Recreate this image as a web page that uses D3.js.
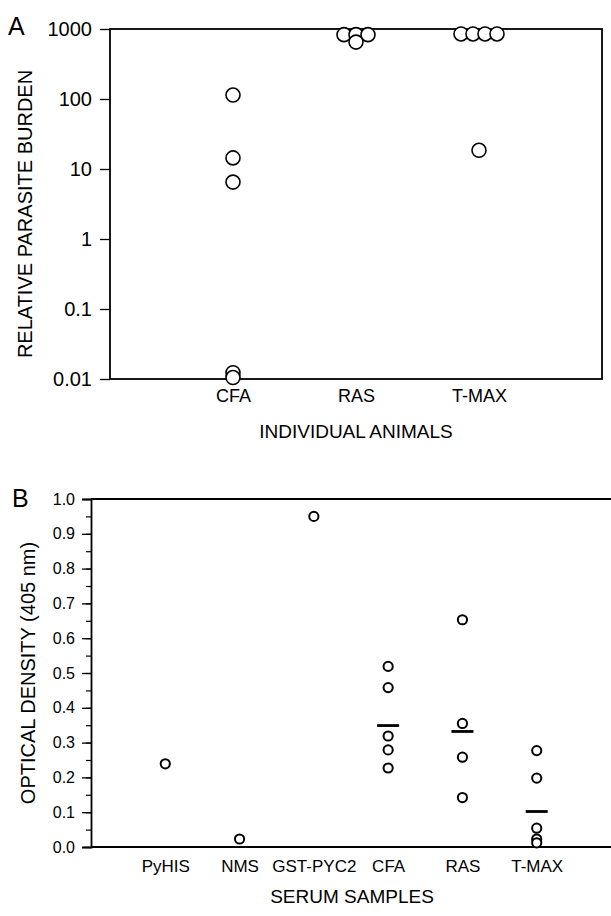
<!DOCTYPE html>
<html>
<head>
<meta charset="utf-8">
<script src="https://cdn.jsdelivr.net/npm/d3@7"></script>
<style>
  body { margin: 0; background: #fff; }
  svg { font-family: "Liberation Sans", Arial, sans-serif; }
</style>
</head>
<body>
<svg id="chart" width="611" height="916"></svg>
<script>
// Panel A data: relative parasite burden per animal
const A_CATEGORIES = ["CFA", "RAS", "T-MAX"];
const A_CFA = [114, 14.4, 6.5, 0.0123, 0.0105];
const A_RAS = [830, 830, 830, 650];
const A_TMAX = [850, 850, 850, 850, 18.5];
const A_TICKS = [0.01, 0.1, 1, 10, 100, 1000];

// Panel B data: optical density per serum sample
const B_CATEGORIES = ["PyHIS", "NMS", "GST-PYC2", "CFA", "RAS", "T-MAX"];
const B_PYHIS = [0.239];
const B_NMS = [0.023];
const B_GST = [0.95];
const B_CFA = [0.519, 0.458, 0.319, 0.279, 0.227];
const B_RAS = [0.653, 0.355, 0.258, 0.142];
const B_TMAX = [0.277, 0.198, 0.054, 0.023, 0.012];
const B_MEANS = [null, null, null, 0.349, 0.332, 0.102];
const B_TICKS = [0.0, 0.1, 0.2, 0.3, 0.4, 0.5, 0.6, 0.7, 0.8, 0.9, 1.0];

const FONT = "Liberation Sans, Arial, sans-serif";
const svg = d3.select("#chart");

// spread identical values sideways so circles sit next to each other
function spread(values, cat, gap) {
    const counts = {};
    values.forEach(v => { counts[v] = (counts[v] || 0) + 1; });
    const seen = {};
    return values.map(v => {
        const n = counts[v];
        const i = seen[v] = (seen[v] === undefined ? 0 : seen[v] + 1);
        return {cat: cat, value: v, dx: (i - (n - 1) / 2) * gap};
    });
}

// ---------- Panel A ----------
const A = {left: 110, right: 602, top: 29, bottom: 379};

const AX = d3.scalePoint().domain(A_CATEGORIES).range([A.left, A.right]).padding(1);
const AY = d3.scaleLog().domain([0.01, 1000]).range([A.bottom, A.top]);

const aPoints = [].concat(
    spread(A_CFA, "CFA", 12),
    spread(A_RAS, "RAS", 12),
    spread(A_TMAX, "T-MAX", 12)
);

const gA = svg.append("g");

// frame
gA.append("rect")
    .attr("x", A.left).attr("y", A.top)
    .attr("width", A.right - A.left).attr("height", A.bottom - A.top)
    .attr("fill", "none").attr("stroke", "#000").attr("stroke-width", 1.8);

const aAxis = gA.append("g")
    .attr("transform", "translate(" + A.left + ",0)")
    .call(d3.axisLeft(AY).tickValues(A_TICKS).tickSize(10).tickPadding(8)
        .tickFormat(d => d >= 1 ? d3.format("d")(d) : String(d)));
aAxis.select(".domain").remove();
aAxis.selectAll("line").attr("stroke-width", 1.3);
aAxis.selectAll("text").attr("font-size", 20).attr("fill", "#000")
    .attr("font-family", FONT);

const aBottom = gA.append("g")
    .attr("transform", "translate(0," + A.bottom + ")")
    .call(d3.axisBottom(AX).tickSize(0).tickPadding(10));
aBottom.select(".domain").remove();
aBottom.selectAll("text").attr("font-size", 18).attr("fill", "#000")
    .attr("font-family", FONT);

gA.selectAll("circle.pt")
    .data(aPoints)
    .enter()
    .append("circle")
    .attr("class", "pt")
    .attr("cx", d => AX(d.cat) + d.dx)
    .attr("cy", d => AY(d.value))
    .attr("r", 7)
    .attr("fill", "#fff")
    .attr("stroke", "#000")
    .attr("stroke-width", 1.6);

gA.append("text")
    .attr("x", 356).attr("y", 438)
    .attr("text-anchor", "middle").attr("font-size", 19)
    .text("INDIVIDUAL ANIMALS");

gA.append("text")
    .attr("transform", "translate(32," + ((A.top + A.bottom) / 2 + 10) + ") rotate(-90)")
    .attr("text-anchor", "middle").attr("font-size", 20)
    .text("RELATIVE PARASITE BURDEN");

gA.append("text")
    .attr("x", 8).attr("y", 35).attr("font-size", 25)
    .text("A");

// ---------- Panel B ----------
const B = {left: 91, right: 611, top: 499, bottom: 847};

const BX = d3.scalePoint().domain(B_CATEGORIES).range([B.left, B.right]).padding(1);
const BY = d3.scaleLinear().domain([0, 1]).range([B.bottom, B.top]);

const bPoints = [].concat(
    spread(B_PYHIS, "PyHIS", 10),
    spread(B_NMS, "NMS", 10),
    spread(B_GST, "GST-PYC2", 10),
    spread(B_CFA, "CFA", 10),
    spread(B_RAS, "RAS", 10),
    spread(B_TMAX, "T-MAX", 10)
);

const gB = svg.append("g");

// top and bottom lines
gB.append("line")
    .attr("x1", B.left).attr("x2", B.right)
    .attr("y1", B.top).attr("y2", B.top)
    .attr("stroke", "#000").attr("stroke-width", 1.8);
gB.append("line")
    .attr("x1", B.left).attr("x2", B.right)
    .attr("y1", B.bottom).attr("y2", B.bottom)
    .attr("stroke", "#000").attr("stroke-width", 1.8);

// minor ticks every 0.05
const bMinor = gB.append("g")
    .attr("transform", "translate(" + B.left + ",0)")
    .call(d3.axisLeft(BY).ticks(20).tickSize(5).tickFormat(""));
bMinor.select(".domain").remove();
bMinor.selectAll("line").attr("stroke-width", 1.2);

const bAxis = gB.append("g")
    .attr("transform", "translate(" + B.left + ",0)")
    .call(d3.axisLeft(BY).tickValues(B_TICKS).tickSize(9).tickPadding(7)
        .tickFormat(d3.format(".1f")));
bAxis.select(".domain").attr("stroke-width", 1.8);
bAxis.selectAll("line").attr("stroke-width", 1.3);
bAxis.selectAll("text").attr("font-size", 16).attr("fill", "#000")
    .attr("font-family", FONT);

const bBottom = gB.append("g")
    .attr("transform", "translate(0," + B.bottom + ")")
    .call(d3.axisBottom(BX).tickSize(0).tickPadding(13));
bBottom.select(".domain").remove();
bBottom.selectAll("text").attr("font-size", 17).attr("fill", "#000")
    .attr("font-family", FONT);

// mean bars
gB.selectAll("line.mean")
    .data(B_CATEGORIES.map((c, i) => ({cat: c, value: B_MEANS[i]})).filter(d => d.value !== null))
    .enter()
    .append("line")
    .attr("class", "mean")
    .attr("x1", d => BX(d.cat) - 11).attr("x2", d => BX(d.cat) + 11)
    .attr("y1", d => BY(d.value)).attr("y2", d => BY(d.value))
    .attr("stroke", "#000").attr("stroke-width", 2.8);

gB.selectAll("circle.pt")
    .data(bPoints)
    .enter()
    .append("circle")
    .attr("class", "pt")
    .attr("cx", d => BX(d.cat) + d.dx)
    .attr("cy", d => BY(d.value))
    .attr("r", 4.6)
    .attr("fill", "#fff")
    .attr("stroke", "#000")
    .attr("stroke-width", 2);

gB.append("text")
    .attr("x", 352).attr("y", 903)
    .attr("text-anchor", "middle").attr("font-size", 19)
    .text("SERUM SAMPLES");

gB.append("text")
    .attr("transform", "translate(35," + ((B.top + B.bottom) / 2) + ") rotate(-90)")
    .attr("text-anchor", "middle").attr("font-size", 20)
    .text("OPTICAL DENSITY (405 nm)");

gB.append("text")
    .attr("x", 12).attr("y", 507).attr("font-size", 25)
    .text("B");
</script>
</body>
</html>
